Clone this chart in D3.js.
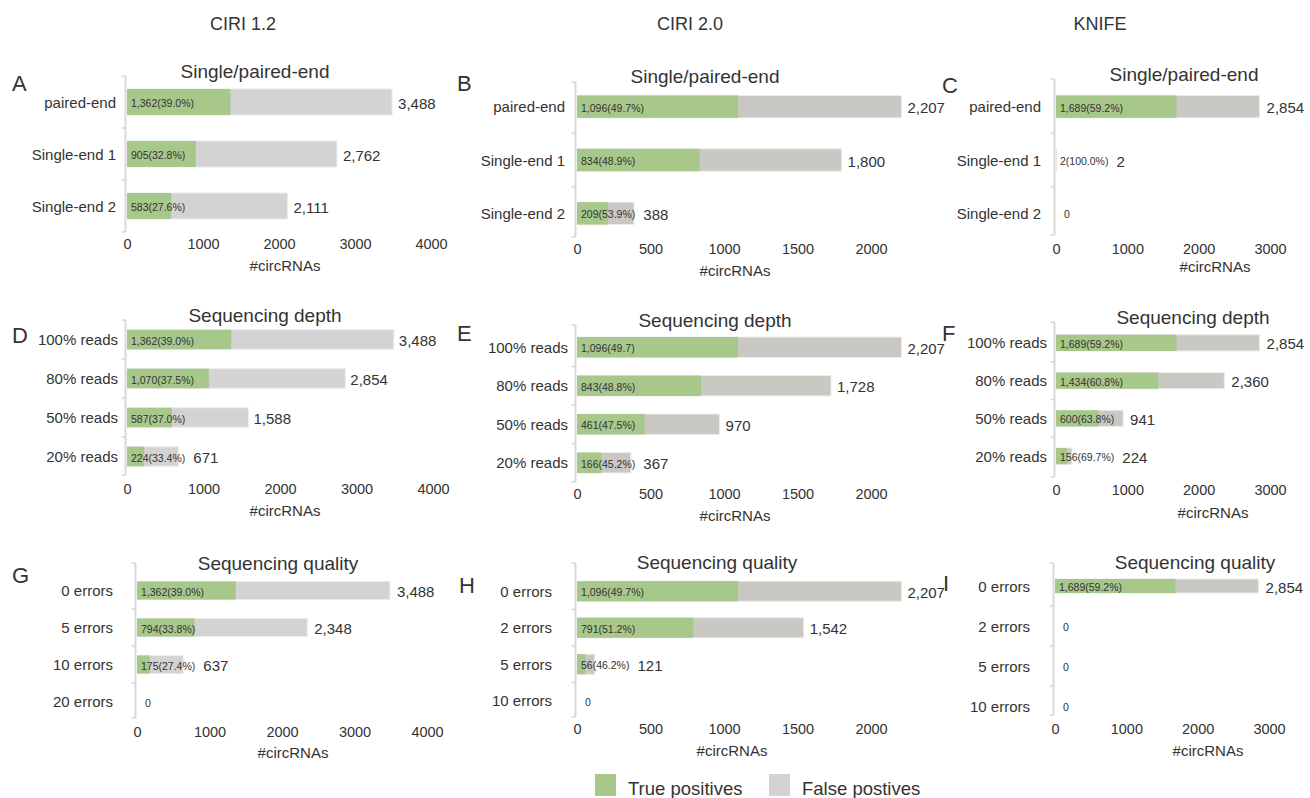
<!DOCTYPE html>
<html>
<head>
<meta charset="utf-8">
<script src="https://cdn.jsdelivr.net/npm/d3@7"></script>
<style>
  body { margin: 0; background: #fff; }
  text { font-family: "Liberation Sans", Arial, sans-serif; fill: #333; }
</style>
</head>
<body>
<svg id="chart" width="1310" height="798"></svg>
<script>
// tools (columns) and test titles (rows)
const tools = ["CIRI 1.2", "CIRI 2.0", "KNIFE"];
const testTitles = ["Single/paired-end", "Sequencing depth", "Sequencing quality"];

// categories
const endCats = ["paired-end", "Single-end 1", "Single-end 2"];
const depthCats = ["100% reads", "80% reads", "50% reads", "20% reads"];
const qualCats12 = ["0 errors", "5 errors", "10 errors", "20 errors"];
const qualCats20 = ["0 errors", "2 errors", "5 errors", "10 errors"];

// true positives / totals / percent labels per panel
const tpA = [1362, 905, 583],   totalA = [3488, 2762, 2111], pctA = ["39.0%", "32.8%", "27.6%"];
const tpB = [1096, 834, 209],   totalB = [2207, 1800, 388],  pctB = ["49.7%", "48.9%", "53.9%"];
const tpC = [1689, 2, 0],       totalC = [2854, 2, 0],       pctC = ["59.2%", "100.0%", ""];
const tpD = [1362, 1070, 587, 224], totalD = [3488, 2854, 1588, 671], pctD = ["39.0%", "37.5%", "37.0%", "33.4%"];
const tpE = [1096, 843, 461, 166],  totalE = [2207, 1728, 970, 367],  pctE = ["49.7", "48.8%", "47.5%", "45.2%"];
const tpF = [1689, 1434, 600, 156], totalF = [2854, 2360, 941, 224],  pctF = ["59.2%", "60.8%", "63.8%", "69.7%"];
const tpG = [1362, 794, 175, 0],    totalG = [3488, 2348, 637, 0],    pctG = ["39.0%", "33.8%", "27.4%", ""];
const tpH = [1096, 791, 56, 0],     totalH = [2207, 1542, 121, 0],    pctH = ["49.7%", "51.2%", "46.2%", ""];
const tpI = [1689, 0, 0, 0],        totalI = [2854, 0, 0, 0],         pctI = ["59.2%", "", "", ""];

// axis tick values
const ticks4k = [0, 1000, 2000, 3000, 4000];
const ticks2k = [0, 500, 1000, 1500, 2000];
const ticks3k = [0, 1000, 2000, 3000];

const legendLabels = ["True positives", "False postives"];

const panels = [
  { id: "A", cats: endCats,    tp: tpA, total: totalA, pct: pctA, ticks: ticks4k },
  { id: "B", cats: endCats,    tp: tpB, total: totalB, pct: pctB, ticks: ticks2k },
  { id: "C", cats: endCats,    tp: tpC, total: totalC, pct: pctC, ticks: ticks3k },
  { id: "D", cats: depthCats,  tp: tpD, total: totalD, pct: pctD, ticks: ticks4k },
  { id: "E", cats: depthCats,  tp: tpE, total: totalE, pct: pctE, ticks: ticks2k },
  { id: "F", cats: depthCats,  tp: tpF, total: totalF, pct: pctF, ticks: ticks3k },
  { id: "G", cats: qualCats12, tp: tpG, total: totalG, pct: pctG, ticks: ticks4k },
  { id: "H", cats: qualCats20, tp: tpH, total: totalH, pct: pctH, ticks: ticks2k },
  { id: "I", cats: qualCats20, tp: tpI, total: totalI, pct: pctI, ticks: ticks3k }
];

// layout of each panel (pixel positions)
const layout = {
  A: { letter: [12, 83],  title: [255, 71],  x0: 127,  x1: 431,  dmax: 4000, band: [76, 232],  pad: 0.5,  axis: [76, 232],  tickY: 244, labX: 285,  labY: 265, catX: 116,  gap: 6 },
  B: { letter: [457, 83], title: [705, 76],  x0: 577,  x1: 871,  dmax: 2000, band: [80, 240],  pad: 0.58, axis: [82, 237],  tickY: 249, labX: 735,  labY: 270, catX: 565,  gap: 6 },
  C: { letter: [942, 85], title: [1184, 74], x0: 1056, x1: 1270, dmax: 3000, band: [80, 240],  pad: 0.58, axis: [79, 235],  tickY: 249, labX: 1215, labY: 266, catX: 1041, gap: 7 },
  D: { letter: [12, 335], title: [265, 315], x0: 127,  x1: 433,  dmax: 4000, band: [320, 476], pad: 0.5,  axis: [320, 475], tickY: 489, labX: 285,  labY: 510, catX: 118,  gap: 5 },
  E: { letter: [457, 333],title: [715, 320], x0: 577,  x1: 871,  dmax: 2000, band: [328, 482], pad: 0.47, axis: [325, 482], tickY: 494, labX: 735,  labY: 515, catX: 568,  gap: 6 },
  F: { letter: [942, 333],title: [1193, 317],x0: 1056, x1: 1270, dmax: 3000, band: [324, 475], pad: 0.57, axis: [322, 477], tickY: 490, labX: 1213, labY: 512, catX: 1047, gap: 7 },
  G: { letter: [12, 575], title: [278, 563], x0: 137,  x1: 427,  dmax: 4000, band: [572, 720], pad: 0.51, axis: [563, 718], tickY: 732, labX: 293,  labY: 752, catX: 113,  gap: 7 },
  H: { letter: [459, 585],title: [717, 562], x0: 577,  x1: 871,  dmax: 2000, band: [573, 719], pad: 0.45, axis: [563, 717], tickY: 729, labX: 732,  labY: 750, catX: 552,  gap: 6 },
  I: { letter: [943, 583],title: [1195, 562],x0: 1055, x1: 1269, dmax: 3000, band: [566, 726], pad: 0.65, axis: [563, 715], tickY: 729, labX: 1208, labY: 750, catX: 1030, gap: 7 }
};

const green = "#a8c78b";
const greys = { 0: "#d3d3d3", 1: "#c9c8c3", 2: "#c9c8c3" };
const fmt = d3.format(",");

const svg = d3.select("#chart");

// column headers
const headerX = [243, 690, 1100];
svg.selectAll(".header")
  .data(tools)
  .enter()
  .append("text")
  .attr("class", "header")
  .attr("x", (d, i) => headerX[i])
  .attr("y", 24)
  .attr("text-anchor", "middle")
  .attr("dominant-baseline", "central")
  .style("font-size", "18px")
  .text(d => d);

function drawPanel(p, idx) {
  const L = layout[p.id];
  const col = idx % 3, row = Math.floor(idx / 3);
  const g = svg.append("g");

  const x = d3.scaleLinear().domain([0, L.dmax]).range([L.x0, L.x1]);
  const y = d3.scaleBand().domain(p.cats).range(L.band)
    .paddingInner(L.pad).paddingOuter(L.pad / 2);

  // panel letter and title
  g.append("text")
    .attr("x", L.letter[0]).attr("y", L.letter[1])
    .attr("dominant-baseline", "central")
    .style("font-size", "22px")
    .text(p.id);
  g.append("text")
    .attr("x", L.title[0]).attr("y", L.title[1])
    .attr("text-anchor", "middle")
    .attr("dominant-baseline", "central")
    .style("font-size", "19px")
    .text(testTitles[row]);

  // vertical axis line with small separators
  const ax = L.x0 - 1.5;
  g.append("line")
    .attr("x1", ax).attr("x2", ax)
    .attr("y1", L.axis[0]).attr("y2", L.axis[1])
    .attr("stroke", "#d9d9d9").attr("stroke-width", 2);
  const half = (y.step() - y.bandwidth()) / 2;
  const sepY = p.cats.slice(1).map(c => y(c) - half).concat([L.axis[0], L.axis[1]]);
  g.selectAll(".sep")
    .data(sepY)
    .enter()
    .append("line")
    .attr("x1", ax - 4).attr("x2", ax)
    .attr("y1", d => d).attr("y2", d => d)
    .attr("stroke", "#d9d9d9").attr("stroke-width", 1.5);

  const rows = p.cats.map((c, i) => ({ cat: c, tp: p.tp[i], total: p.total[i], pct: p.pct[i] }));

  // category labels
  g.selectAll(".cat")
    .data(rows)
    .enter()
    .append("text")
    .attr("x", L.catX)
    .attr("y", d => y(d.cat) + y.bandwidth() / 2)
    .attr("text-anchor", "end")
    .attr("dominant-baseline", "central")
    .style("font-size", "15px")
    .text(d => d.cat);

  // false positives (total) bars
  g.selectAll(".fp")
    .data(rows.filter(d => d.total > 0))
    .enter()
    .append("rect")
    .attr("x", x(0))
    .attr("y", d => y(d.cat))
    .attr("width", d => x(d.total) - x(0))
    .attr("height", y.bandwidth())
    .attr("fill", greys[col])
    .attr("stroke", "#ececec").attr("stroke-width", 1);

  // true positives bars
  g.selectAll(".tp")
    .data(rows.filter(d => d.tp > 0))
    .enter()
    .append("rect")
    .attr("x", x(0))
    .attr("y", d => y(d.cat))
    .attr("width", d => x(d.tp) - x(0))
    .attr("height", y.bandwidth())
    .attr("fill", green);

  // inner labels and totals
  rows.forEach(d => {
    const cy = y(d.cat) + y.bandwidth() / 2;
    const inner = g.append("text")
      .attr("x", x(0) + (d.total > 0 ? 4 : 8))
      .attr("y", cy + 1)
      .attr("dominant-baseline", "central")
      .style("font-size", "10.5px")
      .text(d.total > 0 ? fmt(d.tp) + "(" + d.pct + ")" : "0");
    if (d.total > 0) {
      const innerEnd = x(0) + 4 + inner.node().getComputedTextLength();
      const tx = Math.max(x(d.total) + L.gap, innerEnd + 8);
      g.append("text")
        .attr("x", tx)
        .attr("y", cy + 1)
        .attr("dominant-baseline", "central")
        .style("font-size", "15px")
        .text(fmt(d.total));
    }
  });

  // x axis
  const xAxis = d3.axisBottom(x).tickValues(p.ticks).tickSize(0).tickPadding(0).tickFormat(d3.format("d"));
  const axG = g.append("g").attr("transform", "translate(0," + L.tickY + ")").call(xAxis);
  axG.select(".domain").remove();
  axG.selectAll("text")
    .attr("dy", null).attr("y", 0)
    .attr("dominant-baseline", "central")
    .style("font-size", "14.5px")
    .style("font-family", "\"Liberation Sans\", Arial, sans-serif")
    .attr("fill", "#333");

  g.append("text")
    .attr("x", L.labX)
    .attr("y", L.labY)
    .attr("text-anchor", "middle")
    .attr("dominant-baseline", "central")
    .style("font-size", "15px")
    .text("#circRNAs");
}

panels.forEach(drawPanel);

// legend
const legendX = [595, 769];
const legendFill = [green, "#d3d3d3"];
const lg = svg.selectAll(".legend")
  .data(legendLabels)
  .enter()
  .append("g")
  .attr("transform", (d, i) => "translate(" + legendX[i] + ",774)");
lg.append("rect").attr("width", 21).attr("height", 22).attr("fill", (d, i) => legendFill[i]);
lg.append("text")
  .attr("x", 33).attr("y", 14)
  .attr("dominant-baseline", "central")
  .style("font-size", "18.5px")
  .text(d => d);
</script>
</body>
</html>
